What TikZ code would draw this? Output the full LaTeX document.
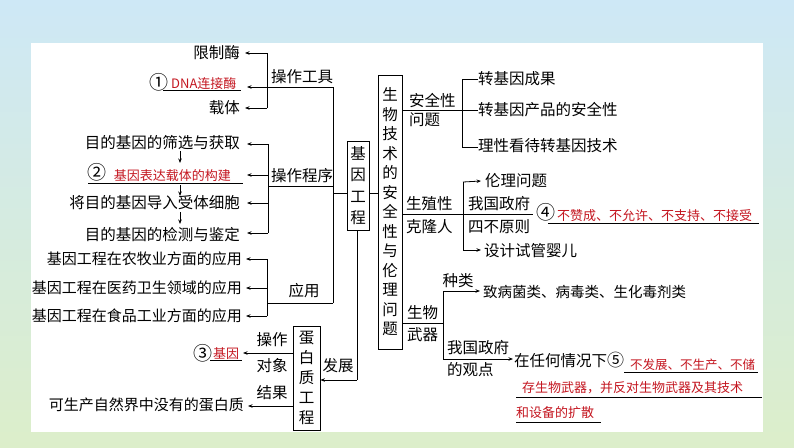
\documentclass[tikz,border=0pt]{standalone}
\usepackage{fontspec}
\setmainfont{Noto Sans CJK SC}
\usetikzlibrary{arrows.meta}
\definecolor{myred}{RGB}{196,22,32}
\definecolor{bgblue}{RGB}{206,232,246}
\definecolor{bggreen}{RGB}{220,238,202}
\begin{document}
\begin{tikzpicture}[x=1pt,y=-1pt,
  txt/.style={font=\fontsize{15.5}{18}\selectfont,inner sep=0pt},
  ltxt/.style={font=\fontsize{15}{18}\selectfont,inner sep=0pt},
  rtxt/.style={text=myred,font=\fontsize{13}{15}\selectfont,inner sep=0pt},
  num/.style={font=\fontsize{19}{20}\selectfont,inner sep=0pt},
  ln/.style={line width=0.8pt},
  arr/.style={line width=0.8pt,-{Stealth[length=4.5pt,width=3.5pt]}},
  uline/.style={line width=0.8pt},
  vbox/.style={draw,line width=0.8pt,align=center,inner sep=0pt}]
\useasboundingbox (0,0) rectangle (794,447);
\shade[top color=bgblue,bottom color=bggreen] (0,0) rectangle (794,447);
\fill[white] (31,43) rectangle (763,432);

% ---- central boxes
\node[vbox,minimum width=22,minimum height=89,font=\fontsize{15.5}{21.5}\selectfont] (jy) at (358,185.5) {基\\因\\工\\程};
\node[vbox,minimum width=24,minimum height=274,font=\fontsize{15.5}{19.5}\selectfont] (sw) at (390,212) {生\\物\\技\\术\\的\\安\\全\\性\\与\\伦\\理\\问\\题};
\node[vbox,minimum width=27,minimum height=104,font=\fontsize{15.5}{20}\selectfont] (db) at (306.5,378) {蛋\\白\\质\\工\\程};

% ---- trunk
\coordinate (t1) at (333,87);
\coordinate (t2) at (333,186);
\coordinate (t3) at (333,303);
\coordinate (tj) at (333,193);
\draw[ln] (t1) -- (t3);
\draw[ln] (tj) -- (jy.west |- tj);
\draw[ln] (jy.east |- tj) -- (sw.west |- tj);

% ---- 操作工具
\node[txt,anchor=east] (xzm) at (240,53) {限制酶};
\node[num] (c1) at (159,82) {①};
\node[rtxt,anchor=west] (dna) at (171,84) {DNA连接酶};
\node[txt,anchor=east] (zt) at (240,108) {载体};
\node[txt] (czgj) at (302,77) {操作工具};
\coordinate (b1t) at (267,53);
\coordinate (b1b) at (267,108);
\draw[ln] (b1t) -- (b1b);
\draw[arr] (b1t) -- ([xshift=5pt]xzm.east);
\draw[arr] (b1b) -- ([xshift=5pt]zt.east);
\draw[arr] (t1) -- (247,87);
\draw[uline] (163,90) -- (241,90);

% ---- 操作程序
\node[txt,anchor=east] (p1) at (240,143) {目的基因的筛选与获取};
\node[num] (c2) at (97,172) {②};
\node[rtxt,anchor=east] (p2) at (231,176) {基因表达载体的构建};
\node[txt,anchor=east] (p3) at (240,203) {将目的基因导入受体细胞};
\node[txt,anchor=east] (p4) at (240,235) {目的基因的检测与鉴定};
\node[txt] (czcx) at (302,176) {操作程序};
\draw[uline] (88,183) -- (243,183);
\coordinate (b2t) at (268,144);
\coordinate (b2b) at (268,233);
\draw[ln] (b2t) -- (b2b);
\draw[ln] (t2) -- (268,186);
\draw[arr] (b2t) -- (247,144);
\draw[arr] (268,175) -- (247,175);
\draw[arr] (268,203) -- (247,203);
\draw[arr] (b2b) -- (247,233);
\draw[arr] (180,151) -- (180,163);
\draw[arr] (180,185) -- (180,196);
\draw[arr] (180,212) -- (180,224);

% ---- 应用
\node[ltxt,anchor=east] (a1) at (242,259) {基因工程在农牧业方面的应用};
\node[ltxt,anchor=east] (a2) at (242,288) {基因工程在医药卫生领域的应用};
\node[ltxt,anchor=east] (a3) at (242,316) {基因工程在食品工业方面的应用};
\node[txt] (yy) at (304,291) {应用};
\coordinate (b3t) at (267,259);
\coordinate (b3b) at (267,316);
\draw[ln] (b3t) -- (b3b);
\draw[ln] (t3) -- (267,303);
\draw[arr] (b3t) -- ([xshift=4pt]a1.east);
\draw[arr] (267,288) -- ([xshift=4pt]a2.east);
\draw[arr] (b3b) -- ([xshift=4pt]a3.east);

% ---- 发展 / 蛋白质工程
\coordinate (fz) at (357,380);
\draw[ln] (jy.south -| fz) -- (fz);
\draw[arr] (fz) -- (db.east |- fz);
\node[txt] (fzt) at (338,366) {发展};
\node[txt] (cz) at (272,340) {操作};
\node[txt] (dx) at (272,366) {对象};
\node[num] (c3) at (203,353) {③};
\node[rtxt] (jyr) at (226,354) {基因};
\draw[uline] (210,360) -- (242,360);
\draw[arr] (db.west |- 0,353) -- (243,353);
\node[txt] (jg) at (272,393) {结果};
\node[ltxt,anchor=east] (kscs) at (244,405) {可生产自然界中没有的蛋白质};
\draw[arr] (db.west |- 0,406) -- ([xshift=4pt]kscs.east |- 0,406);

% ---- 安全性问题
\node[txt,anchor=west] (aqx) at (409,101) {安全性};
\node[txt,anchor=west] (wt) at (409,120) {问题};
\coordinate (b4) at (462,110);
\draw[ln] (sw.east |- b4) -- (b4);
\draw[ln] (462,79) -- (462,147);
\node[txt,anchor=west] (s1) at (478,79) {转基因成果};
\node[txt,anchor=west] (s2) at (478,110) {转基因产品的安全性};
\node[txt,anchor=west] (s3) at (478,146) {理性看待转基因技术};
\draw[ln] (462,79) -- (s1.west);
\draw[ln] (b4) -- (s2.west);
\draw[ln] (462,147) -- (s3.west |- 0,147);

% ---- 生殖性克隆人
\node[txt,anchor=west] (szx) at (406,204) {生殖性};
\node[txt,anchor=west] (klr) at (406,227) {克隆人};
\coordinate (b5) at (463,214);
\draw[ln] (sw.east |- b5) -- (533,214);
\draw[ln] (463,182) -- (463,250);
\node[txt,anchor=west] (llwt) at (485,181) {伦理问题};
\node[txt,anchor=west] (sjsg) at (484,251) {设计试管婴儿};
\draw[arr] (463,182) -- ([xshift=-4pt]llwt.west);
\draw[arr] (463,250) -- ([xshift=-3pt]sjsg.west |- 0,250);
\node[txt,anchor=west] (wgzf) at (468,204) {我国政府};
\node[txt,anchor=west] (sbyz) at (468,227) {四不原则};
\node[num] (c4) at (546,212) {④};
\node[rtxt,anchor=west] (r4) at (557,216) {不赞成、不允许、不支持、不接受};
\draw[uline] (548,223) -- (759,223);

% ---- 生物武器
\node[txt,anchor=west] (swt) at (407,313) {生物};
\node[txt,anchor=west] (wq) at (407,335) {武器};
\coordinate (b6) at (443,323);
\draw[ln] (sw.east |- b6) -- (b6);
\draw[ln] (443,291) -- (443,359);
\node[txt] (zl) at (458,281) {种类};
\node[txt,anchor=west,font=\fontsize{14.5}{17}\selectfont] (zbj) at (483,292) {致病菌类、病毒类、生化毒剂类};
\draw[arr] (443,291) -- ([xshift=-3pt]zbj.west |- 0,291);
\node[txt,anchor=west] (wgzf2) at (447,348) {我国政府};
\node[txt,anchor=west] (dgd) at (447,370) {的观点};
\node[txt,anchor=west] (zrh) at (514,360) {在任何情况下{\fontsize{17}{18}\selectfont ⑤}};
\draw[arr] (443,359) -- ([xshift=-1pt]zrh.west |- 0,359);
\node[rtxt,anchor=west,font=\fontsize{12.5}{15}\selectfont] (r5a) at (630,365) {不发展、不生产、不储};
\draw[uline] (624,372) -- (758,372);
\node[rtxt,anchor=west] (r5b) at (522,388) {存生物武器，并反对生物武器及其技术};
\draw[uline] (516,397) -- (762,397);
\node[rtxt,anchor=west] (r5c) at (516,413) {和设备的扩散};
\draw[uline] (516,422) -- (601,422);
\end{tikzpicture}
\end{document}
